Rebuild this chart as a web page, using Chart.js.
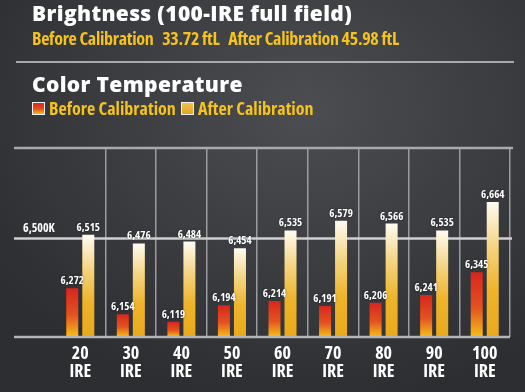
<!DOCTYPE html>
<html>
<head>
<meta charset="utf-8">
<script src="https://cdn.jsdelivr.net/npm/chart.js@4"></script>
<style>
  html, body { margin: 0; padding: 0; }
  body {
    width: 525px; height: 392px; overflow: hidden;
    background: radial-gradient(ellipse 70% 75% at 58% 28%, #4b4d51 0%, #3d3f43 45%, #2c2e31 100%);
  }
  #wrap { position: relative; width: 525px; height: 392px; }
  #chart { position: absolute; left: 0; top: 0; }
  .head { position: absolute; left: 32px; color: #fff; font-family: "Open Sans", sans-serif; font-weight: 800; font-size: 21px; letter-spacing: 0.35px; line-height: 1; white-space: nowrap; }
  .sub { position: absolute; color: #f6c31c; font-family: "Open Sans", sans-serif; font-weight: bold; font-stretch: condensed; font-size: 18px; line-height: 1; white-space: nowrap; }
  #bright { letter-spacing: -0.3px; }
  .rule { position: absolute; left: 16px; top: 61px; width: 498px; height: 2px; background: #a9a9ab; }
  .box { position: absolute; top: 102px; width: 11px; height: 11px; border: 1px solid #f2f2f2; }
</style>
</head>
<body>
<div id="wrap">
  <canvas id="chart" width="525" height="392"></canvas>
  <div class="head" style="top:3px">Brightness (100-IRE full field)</div>
  <div class="sub" id="bright" style="top:29px; left:32px"></div>
  <div class="rule"></div>
  <div class="head" style="top:74px">Color Temperature</div>
  <div class="box" id="box0" style="left:32px"></div>
  <div class="sub" id="leg0" style="top:99px; left:49px"></div>
  <div class="box" id="box1" style="left:181px"></div>
  <div class="sub" id="leg1" style="top:99px; left:198px"></div>
</div>
<script>
const categories = ['20', '30', '40', '50', '60', '70', '80', '90', '100'];
const categoryUnit = 'IRE';
const seriesNames = ['Before Calibration', 'After Calibration'];
const beforeValues = [6272, 6154, 6119, 6194, 6214, 6191, 6206, 6241, 6345];
const afterValues = [6515, 6476, 6484, 6454, 6535, 6579, 6566, 6535, 6664];
const brightnessValues = ['33.72 ftL', '45.98 ftL'];
const targetValue = 6500;
const targetLabel = '6,500K';

const condFont = size => 'bold condensed ' + size + 'px "Open Sans", sans-serif';

const beforeStops = [[0, '#d8261d'], [0.55, '#e4521f'], [1, '#f5c01a']];
const afterStops = [[0, '#fffbf2'], [0.35, '#f4d27c'], [0.65, '#eeb42a'], [1, '#e9a91c']];

// header text + legend
document.getElementById('bright').innerHTML =
  seriesNames[0] + '&nbsp;&nbsp; ' + brightnessValues[0] + '&nbsp;&nbsp; ' +
  seriesNames[1] + ' ' + brightnessValues[1];
document.getElementById('leg0').textContent = seriesNames[0];
document.getElementById('leg1').textContent = seriesNames[1];

const cssGrad = stops => 'linear-gradient(to bottom, ' + stops.map(s => s[1] + ' ' + (s[0] * 100) + '%').join(', ') + ')';
document.getElementById('box0').style.background = cssGrad(beforeStops);
document.getElementById('box1').style.background = cssGrad([[0, '#f0c04a'], [1, '#e6a520']]);

function barGradient(stops) {
  return function (ctx) {
    const chart = ctx.chart;
    const y = chart.scales.y;
    if (!chart.chartArea || !y || ctx.parsed == null) return stops[stops.length - 1][1];
    const top = y.getPixelForValue(ctx.parsed.y);
    const g = chart.ctx.createLinearGradient(0, top, 0, chart.chartArea.bottom);
    stops.forEach(s => g.addColorStop(s[0], s[1]));
    return g;
  };
}

function hLine(c, y, x0, x1, color) {
  c.strokeStyle = color;
  c.lineWidth = 2.5;
  c.beginPath();
  c.moveTo(x0, y);
  c.lineTo(x1, y);
  c.stroke();
}

const refLines = {
  id: 'refLines',
  beforeDatasetsDraw(chart) {
    const c = chart.ctx;
    const area = chart.chartArea;
    const y = Math.round(chart.scales.y.getPixelForValue(targetValue)) + 0.5;
    c.save();
    hLine(c, area.top, 14, area.right + 3, '#a9a9ab');
    hLine(c, y, 14, area.right + 2, '#cfcfd0');
    c.fillStyle = '#ffffff';
    c.font = condFont(12);
    c.textBaseline = 'alphabetic';
    c.fillText(targetLabel, 23, y - 7);
    c.restore();
  },
  afterDatasetsDraw(chart) {
    const c = chart.ctx;
    const area = chart.chartArea;
    c.save();
    hLine(c, area.bottom, 14, area.right, '#b5b5b7');
    c.fillStyle = '#ffffff';
    c.font = condFont(11);
    c.textAlign = 'center';
    c.textBaseline = 'alphabetic';
    c.shadowColor = 'rgba(0,0,0,0.6)';
    c.shadowBlur = 2;
    chart.data.datasets.forEach((ds, i) => {
      chart.getDatasetMeta(i).data.forEach((bar, j) => {
        c.fillText(ds.data[j].toLocaleString('en-US'), bar.x, bar.y - 4);
      });
    });
    c.restore();
  }
};

new Chart(document.getElementById('chart'), {
  type: 'bar',
  data: {
    labels: categories.map(c => [c, categoryUnit]),
    datasets: [
      { label: seriesNames[0], data: beforeValues, backgroundColor: barGradient(beforeStops) },
      { label: seriesNames[1], data: afterValues, backgroundColor: barGradient(afterStops) }
    ]
  },
  options: {
    responsive: false,
    animation: false,
    categoryPercentage: 0.634,
    barPercentage: 0.75,
    layout: { padding: { left: 55, right: 15, top: 148, bottom: 0 } },
    plugins: { legend: { display: false }, tooltip: { enabled: false } },
    scales: {
      x: {
        afterFit: s => { s.height = 55; },
        grid: {
          drawTicks: false,
          lineWidth: 1.5,
          color: ctx => (ctx.index === 0 || ctx.index === categories.length) ? 'rgba(0,0,0,0)' : '#9c9c9e'
        },
        border: { display: false },
        ticks: {
          color: '#ffffff',
          padding: 8,
          font: { family: '"Open Sans", sans-serif', size: 18, weight: 'bold condensed', lineHeight: 1 }
        }
      },
      y: {
        display: false,
        min: 6050,
        max: 6910
      }
    }
  },
  plugins: [refLines]
});
</script>
</body>
</html>
